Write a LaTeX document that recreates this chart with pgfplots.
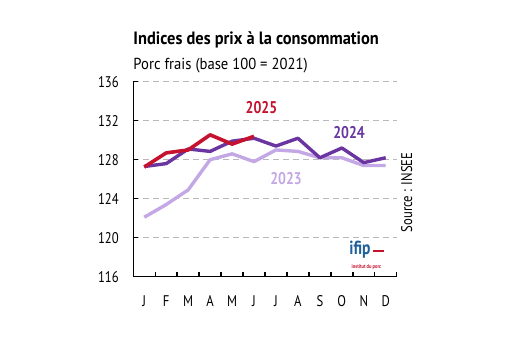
\documentclass[border=0pt]{standalone}
\usepackage{pgfplots}
\pgfplotsset{compat=1.18}
\usepackage{fontspec}
\setmainfont{PT Sans}[FakeStretch=0.82]
\newfontfamily\titlefont{PT Sans}[FakeStretch=0.92]
\definecolor{c25}{HTML}{C4122F}
\definecolor{c24}{HTML}{6A35A0}
\definecolor{c23}{HTML}{C4A8E6}
\definecolor{logoblue}{HTML}{1F5F9A}
\begin{document}
\begin{tikzpicture}
\begin{axis}[
  name=ax, at={(0,0)}, anchor=south west,
  scale only axis, width=263.4bp, height=195bp,
  xmin=0, xmax=12, ymin=116, ymax=136,
  clip=false,
  axis x line*=bottom, axis y line*=left,
  axis line style={-, line width=1.4bp, black},
  xtick={1,...,12}, xticklabels={},
  extra x ticks={0.5,1.5,...,11.5},
  extra x tick labels={J,F,M,A,M,J,J,A,S,O,N,D},
  extra x tick style={major tick length=0pt, xticklabel style={yshift=-15bp}},
  ytick={116,120,...,136},
  tick align=inside, major tick length=5bp,
  tick style={line width=1.4bp, black},
  ymajorgrids, grid style={dashed, gray!55, line width=0.8bp, dash pattern=on 6bp off 4bp},
  yticklabel style={xshift=-11bp},
  tick label style={font=\fontsize{15.5}{15.5}\selectfont},
  /pgf/number format/assume math mode=true,
]
\addplot[c23, line width=3.4bp, line join=round] coordinates {
 (0.5,122.1) (1.5,123.4) (2.5,124.9) (3.5,128.0) (4.5,128.6) (5.5,127.8)
 (6.5,129.0) (7.5,128.85) (8.5,128.2) (9.5,128.2) (10.5,127.4) (11.5,127.4)};
\addplot[c24, line width=3.4bp, line join=round] coordinates {
 (0.5,127.3) (1.5,127.6) (2.5,129.1) (3.5,128.85) (4.5,129.9) (5.5,130.2)
 (6.5,129.4) (7.5,130.2) (8.5,128.2) (9.5,129.2) (10.5,127.7) (11.5,128.2)};
\addplot[c25, line width=3.6bp, line join=round] coordinates {
 (0.5,127.25) (1.5,128.7) (2.5,129.0) (3.5,130.55) (4.5,129.6) (5.5,130.4)};
\node[c25, font=\bfseries\fontsize{17}{17}\selectfont] at (axis cs:5.84,133.35) {2025};
\node[c24, font=\bfseries\fontsize{17}{17}\selectfont] at (axis cs:9.83,130.79) {2024};
\node[c23, font=\bfseries\fontsize{17}{17}\selectfont] at (axis cs:6.96,126.02) {2023};
\node[rotate=90, font=\fontsize{15.5}{15.5}\selectfont] at (axis cs:12.46,124.64) {Source : INSEE};
\node[logoblue, font=\bfseries\fontsize{19}{19}\selectfont] at (axis cs:10.33,118.75) {ifip};
\draw[c25, line width=1.8bp] (axis cs:10.9,118.62) -- (axis cs:11.4,118.62);
\node[c25, font=\bfseries\fontsize{5.5}{5.5}\selectfont] at (axis cs:10.62,117.0) {institut du porc};
\end{axis}
\node[anchor=base west, inner sep=0pt, font=\titlefont\bfseries\fontsize{17.9}{17.9}\selectfont] at (0bp,231.7bp) {Indices des prix à la consommation};
\node[anchor=base west, inner sep=0pt, font=\titlefont\fontsize{16}{16}\selectfont] at (0bp,207.2bp) {Porc frais (base 100 = 2021)};
\pgfresetboundingbox
\path (-133.3bp,-63.3bp) rectangle (386.7bp,276.7bp);
\end{tikzpicture}
\end{document}
